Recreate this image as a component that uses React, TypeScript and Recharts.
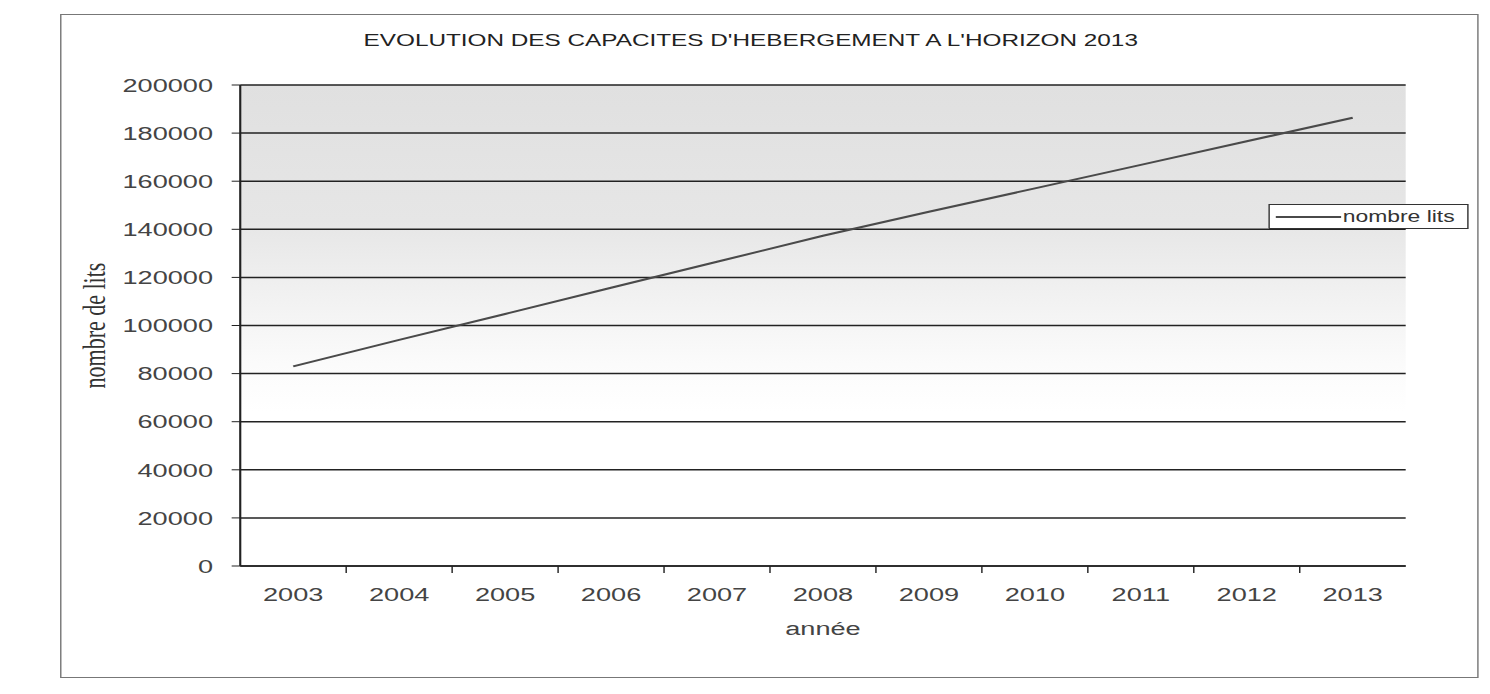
import React from "react";
import { LineChart, Line, XAxis, YAxis, CartesianGrid, Legend } from "recharts";

// values
const years = ["2003", "2004", "2005", "2006", "2007", "2008", "2009", "2010", "2011", "2012", "2013"];
const nombreLits = [83000, 94000, 104800, 115700, 126500, 137300, 147300, 157000, 166800, 176600, 186400];
const yTicks = [0, 20000, 40000, 60000, 80000, 100000, 120000, 140000, 160000, 180000, 200000];

const data = years.map((annee, i) => ({ annee, lits: nombreLits[i] }));

// the scan is stretched sideways, so the chart is drawn narrow and scaled
const STRETCH = 1.43;
const W = 1042;
const H = 694;
const MARGIN = { top: 85, right: 59, bottom: 0, left: 0 };
const Y_AXIS_W = 168;
const X_AXIS_H = 128;
const PLOT_W = W - MARGIN.left - MARGIN.right - Y_AXIS_W;
const BAND = PLOT_W / years.length;

const SANS = '"Liberation Sans", Arial, sans-serif';
const SERIF = '"Liberation Serif", "Times New Roman", serif';
const INK = "#222";
const TEXT = "#444";

const XTick = (props: any) => {
  const { x, y, payload, index } = props;
  return (
    <g>
      {index > 0 && (
        <line x1={x - BAND / 2} x2={x - BAND / 2} y1={y} y2={y + 7} stroke={INK} strokeWidth={1} />
      )}
      <text x={x} y={y + 35} textAnchor="middle" fontSize={19} fill={TEXT} fontFamily={SANS}>
        {payload.value}
      </text>
    </g>
  );
};

const YLabel = (props: any) => {
  const vb = props.viewBox;
  const cx = vb.x + 66;
  const cy = vb.y + vb.height / 2;
  return (
    <text
      x={cx}
      y={cy}
      transform={`rotate(-90 ${cx} ${cy})`}
      textAnchor="middle"
      dominantBaseline="central"
      fontSize={22}
      fill="#333"
      fontFamily={SERIF}
    >
      nombre de lits
    </text>
  );
};

const LegendBox = () => (
  <div
    style={{
      width: 140,
      height: 25,
      boxSizing: "border-box",
      border: "1.2px solid #333",
      background: "#fff",
      display: "flex",
      alignItems: "center",
      fontFamily: SANS,
      fontSize: 16,
      color: "#333",
    }}
  >
    <svg width={46} height={10} style={{ marginLeft: 4 }}>
      <line x1={0} y1={5} x2={46} y2={5} stroke="#4a4a4a" strokeWidth={2} />
    </svg>
    <span style={{ marginLeft: 1 }}>nombre lits</span>
  </div>
);

export default function App() {
  return (
    <div style={{ position: "absolute", left: 0, top: 0, width: 1490, height: 694, overflow: "hidden", background: "#fff" }}>
      <div
        style={{
          position: "absolute",
          left: 0,
          top: 0,
          width: W,
          height: H,
          transform: `scaleX(${STRETCH})`,
          transformOrigin: "0 0",
        }}
      >
        <LineChart width={W} height={H} data={data} margin={MARGIN}>
          <defs>
            <linearGradient id="plotBg" x1="0" y1="0" x2="0" y2="1">
              <stop offset="0%" stopColor="#e0e0e0" />
              <stop offset="28%" stopColor="#e6e6e6" />
              <stop offset="45%" stopColor="#f2f2f2" />
              <stop offset="58%" stopColor="#fbfbfb" />
              <stop offset="68%" stopColor="#ffffff" />
            </linearGradient>
          </defs>
          <CartesianGrid vertical={false} stroke={INK} strokeWidth={1.5} fill="url(#plotBg)" fillOpacity={1} />
          <XAxis
            dataKey="annee"
            height={X_AXIS_H}
            padding={{ left: BAND / 2, right: BAND / 2 }}
            interval={0}
            tickLine={false}
            tickSize={0}
            tickMargin={0}
            axisLine={{ stroke: INK, strokeWidth: 1.5 }}
            tick={<XTick />}
            label={{ value: "année", position: "insideTop", offset: 56, fill: TEXT, fontSize: 19, fontFamily: SANS }}
          />
          <YAxis
            width={Y_AXIS_W}
            domain={[0, 200000]}
            ticks={yTicks}
            interval={0}
            tickSize={6}
            tickMargin={13}
            tickLine={{ stroke: INK }}
            axisLine={{ stroke: INK, strokeWidth: 1.5 }}
            tick={{ fontSize: 19, fill: TEXT, fontFamily: SANS }}
            label={YLabel}
          />
          <YAxis
            yAxisId="right"
            orientation="right"
            width={0}
            tick={false}
            tickLine={false}
            axisLine={{ stroke: INK, strokeWidth: 1.5 }}
          />
          <Legend
            layout="vertical"
            align="center"
            verticalAlign="middle"
            content={<LegendBox />}
            wrapperStyle={{ left: 887, top: 204, width: 140, height: 25 }}
          />
          <Line
            type="linear"
            dataKey="lits"
            name="nombre lits"
            stroke="#4a4a4a"
            strokeWidth={2}
            dot={false}
            activeDot={false}
            isAnimationActive={false}
          />
        </LineChart>
        <div
          style={{
            position: "absolute",
            left: 42,
            top: 14,
            width: 990,
            height: 662,
            border: "1px solid #777",
            pointerEvents: "none",
          }}
        />
        <div
          style={{
            position: "absolute",
            left: 0,
            top: 32,
            width: 1050,
            textAlign: "center",
            fontFamily: SANS,
            fontSize: 17,
            lineHeight: "17px",
            color: "#222",
            whiteSpace: "nowrap",
          }}
        >
          EVOLUTION DES CAPACITES D'HEBERGEMENT A L'HORIZON 2013
        </div>
      </div>
    </div>
  );
}
